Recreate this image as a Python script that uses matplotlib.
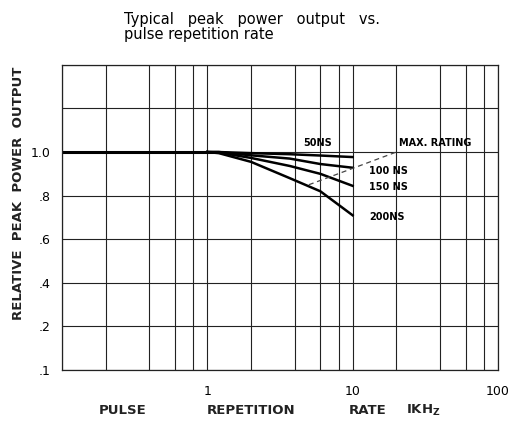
import matplotlib.pyplot as plt
from matplotlib.ticker import FixedLocator, NullLocator

# pulse repetition rate (kHz) and relative peak power
rate = [1.0, 1.2, 2.0, 3.7, 6.0, 10.0]
p50 = [1.0, 1.0, 0.995, 0.99, 0.984, 0.977]
p100 = [1.0, 1.0, 0.985, 0.97, 0.945, 0.928]
p150 = [1.0, 0.998, 0.973, 0.936, 0.90, 0.845]
p200 = [1.0, 0.995, 0.955, 0.88, 0.82, 0.71]

flat_rate = [0.1, 1.2]
flat_p = [1.0, 1.0]

max_rate = [5.0, 20.0]
max_p = [0.85, 1.0]

xgrid = [0.1, 0.2, 0.4, 0.6, 0.8, 1, 2, 4, 6, 8, 10, 20, 40, 60, 80, 100]
yticks = [0, 0.2, 0.4, 0.6, 0.8, 1.0, 1.2, 1.4]
ylabels = ['.1', '.2', '.4', '.6', '.8', '1.0', '', '']

fig = plt.figure(figsize=(5.16, 4.21), dpi=100)
ax = fig.add_axes([0.120, 0.121, 0.845, 0.725])

ax.set_xscale('log')
ax.set_xlim(0.1, 100)
ax.set_ylim(0, 1.4)
ax.xaxis.set_major_locator(FixedLocator(xgrid))
ax.xaxis.set_minor_locator(NullLocator())
ax.set_yticks(yticks)
ax.set_yticklabels(ylabels, fontsize=9)
ax.set_xticklabels([])
ax.grid(True, color='#222222', linewidth=0.8)
ax.tick_params(length=0, pad=8)
for s in ax.spines.values():
    s.set_color('#222222')
    s.set_linewidth(0.9)

ax.plot(flat_rate, flat_p, color='black', lw=2.2)
for p in [p50, p100, p150, p200]:
    ax.plot(rate, p, color='black', lw=1.8)
ax.plot(max_rate, max_p, color='#444444', lw=0.9, dashes=(4, 3))

lab = dict(fontsize=7, fontweight='bold', va='center')
ax.text(4.6, 1.04, '50NS', **lab)
ax.text(21, 1.04, 'MAX. RATING', **lab)
ax.text(13, 0.915, '100 NS', **lab)
ax.text(13, 0.84, '150 NS', **lab)
ax.text(13, 0.70, '200NS', **lab)

for x, t in [(1, '1'), (10, '10'), (100, '100')]:
    ax.text(x, -0.07, t, ha='center', va='top', fontsize=9)

fig.text(0.24, 0.972, 'Typical   peak   power   output   vs.\npulse repetition rate',
         fontsize=10.5, va='top', ha='left', linespacing=1.0)

fig.text(0.035, 0.54, 'RELATIVE  PEAK  POWER  OUTPUT', rotation=90,
         fontsize=9.5, fontweight='bold', ha='center', va='center', color='#222222')

for x, t in [(0.237, 'PULSE'), (0.487, 'REPETITION'), (0.713, 'RATE'), (0.82, 'IKH$_{\\mathbf{Z}}$')]:
    fig.text(x, 0.025, t, fontsize=9.5, fontweight='bold', ha='center', va='center', color='#222222')

fig.savefig('out.png', dpi=100)
